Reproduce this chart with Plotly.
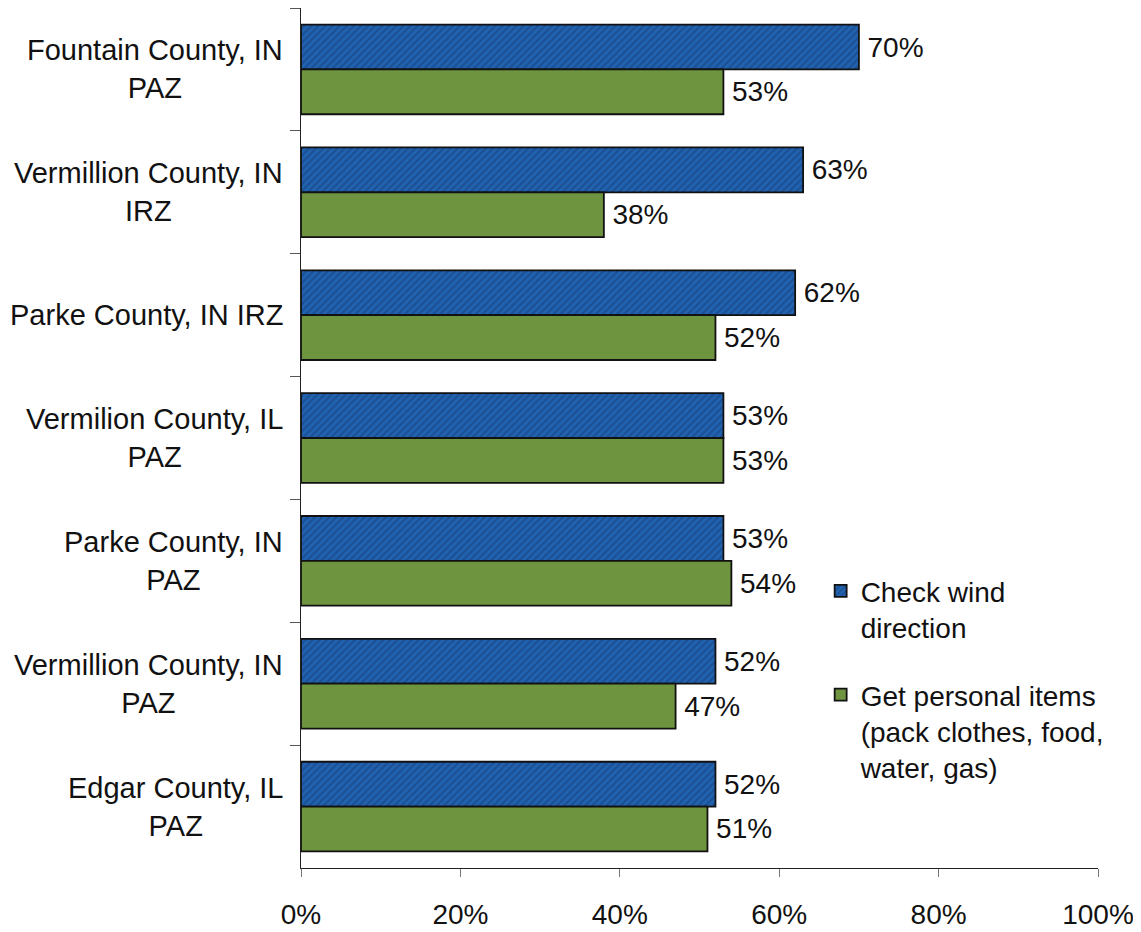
import plotly.graph_objects as go

categories = ["Fountain County, IN<br>PAZ", "Vermillion County, IN<br>IRZ", "Parke County, IN IRZ",
              "Vermilion County, IL<br>PAZ", "Parke County, IN<br>PAZ", "Vermillion County, IN<br>PAZ",
              "Edgar County, IL<br>PAZ"]
check_wind = [70, 63, 62, 53, 53, 52, 52]
personal_items = [53, 38, 52, 53, 54, 47, 51]
x_ticks = [0, 20, 40, 60, 80, 100]

FONT = "Liberation Sans, Arial, sans-serif"
FS = 28
FS_LABEL = 29

fig = go.Figure()
fig.add_trace(go.Bar(
    y=categories, x=check_wind, orientation="h", name="Check wind<br>direction",
    legendgroup="a",
    marker=dict(color="#1F5EA8", line=dict(color="#111111", width=1.8),
                pattern=dict(shape="/", fgcolor="#183D78", bgcolor="#2163B0", size=5, solidity=0.45)),
    text=[f"\u2009{v}%" for v in check_wind], textposition="outside", cliponaxis=False,
    textfont=dict(size=FS, color="#111111", family=FONT),
))
fig.add_trace(go.Bar(
    y=categories, x=personal_items, orientation="h",
    name="Get personal items<br>(pack clothes, food,<br>water, gas)",
    legendgroup="b",
    marker=dict(color="#6E9440", line=dict(color="#111111", width=1.8)),
    text=[f"\u2009{v}%" for v in personal_items], textposition="outside", cliponaxis=False,
    textfont=dict(size=FS, color="#111111", family=FONT),
))

for c in categories:
    fig.add_annotation(x=0, xref="paper", y=c, yref="y", text=c, showarrow=False,
                       xanchor="right", align="center", xshift=-16,
                       font=dict(size=FS_LABEL, color="#111111", family=FONT))

fig.update_layout(
    width=1133, height=924,
    margin=dict(l=293, r=43, t=0, b=64),
    plot_bgcolor="white", paper_bgcolor="white",
    barmode="group", bargap=0.27, bargroupgap=0,
    font=dict(family=FONT, size=FS, color="#111111"),
    legend=dict(x=0.652, y=0.351, xanchor="left", yanchor="top", valign="top",
                font=dict(size=FS_LABEL - 1, family=FONT, color="#111111"),
                tracegroupgap=28, itemwidth=30, bgcolor="rgba(0,0,0,0)"),
    showlegend=True,
)
fig.update_xaxes(range=[0, 100], tickvals=x_ticks, ticktext=[f"{v}%" for v in x_ticks],
                 showgrid=False, zeroline=False, showline=True, linecolor="#222222", linewidth=1,
                 ticks="outside", ticklen=8, tickcolor="#777777", tickwidth=1,
                 tickfont=dict(size=FS, family=FONT, color="#111111"), ticklabelstandoff=13)
fig.update_yaxes(autorange="reversed", showticklabels=False, showgrid=False,
                 showline=True, linecolor="#222222", linewidth=1,
                 ticks="outside", ticklen=10, tickcolor="#555555", tickson="boundaries")

fig.write_html("out.html")
